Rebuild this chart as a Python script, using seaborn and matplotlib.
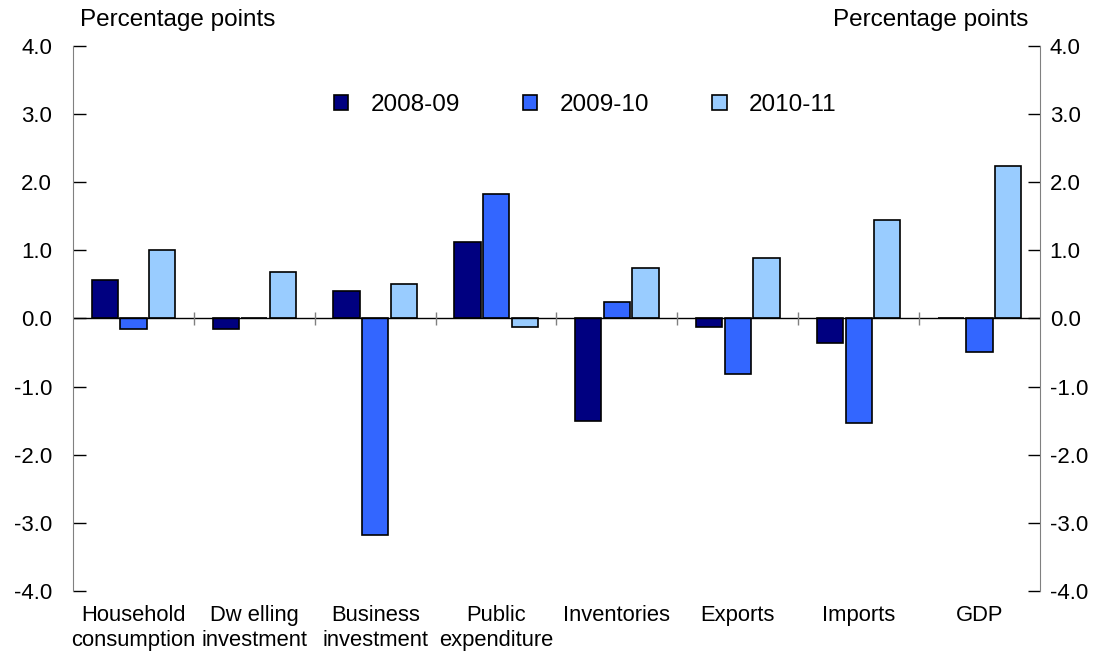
import pandas as pd
import matplotlib
matplotlib.use("Agg")
import matplotlib.pyplot as plt
import seaborn as sns
from matplotlib.ticker import FormatStrFormatter

# Contributions to growth
categories = ["Household\nconsumption", "Dw elling\ninvestment", "Business\ninvestment",
              "Public\nexpenditure", "Inventories", "Exports", "Imports", "GDP"]
years = ["2008-09", "2009-10", "2010-11"]
v_0809 = [0.56, -0.15, 0.41, 1.13, -1.50, -0.12, -0.36, 0.0]
v_0910 = [-0.15, 0.0, -3.18, 1.83, 0.24, -0.82, -1.53, -0.49]
v_1011 = [1.00, 0.68, 0.51, -0.12, 0.74, 0.89, 1.45, 2.24]
colours = ["#000080", "#3366FF", "#99CCFF"]

rows = []
for yr, vals in zip(years, [v_0809, v_0910, v_1011]):
    for cat, v in zip(categories, vals):
        rows.append({"cat": cat, "year": yr, "value": v})
df = pd.DataFrame(rows)

sns.set_style("white")
plt.rcParams["font.family"] = ["Liberation Sans", "DejaVu Sans"]
plt.rcParams["text.color"] = "black"
plt.rcParams["xtick.labelcolor"] = "black"
plt.rcParams["ytick.labelcolor"] = "black"

TICK_FS = 16
CAT_FS = 15.8
BIG_FS = 17.5

fig = plt.figure(figsize=(11.08, 6.57), dpi=100)
ax = fig.add_axes([0.0659, 0.1005, 0.8727, 0.8295])

sns.barplot(data=df, x="cat", y="value", hue="year", palette=colours,
            order=categories, hue_order=years, width=0.71, gap=0.08,
            saturation=1, edgecolor="black", linewidth=1.2, errorbar=None, ax=ax)

ax.set_ylim(-4, 4)
ax.set_xlim(-0.5, len(categories) - 0.5)
ax.set_yticks([-4, -3, -2, -1, 0, 1, 2, 3, 4])
ax.yaxis.set_major_formatter(FormatStrFormatter("%.1f"))
ax.set_xlabel("")
ax.set_ylabel("")
ax.tick_params(axis="y", direction="in", length=9, width=1, color="black",
               pad=15, labelsize=TICK_FS, labelcolor="black")
ax.tick_params(axis="x", length=0, pad=10, labelsize=CAT_FS, labelcolor="black")
for lab in ax.get_xticklabels():
    lab.set_linespacing(1.25)
    lab.set_verticalalignment("top")

for s in ["top", "bottom", "right"]:
    ax.spines[s].set_visible(False)
ax.spines["left"].set_color("#808080")

# zero line with category separators
ax.axhline(0, color="black", lw=1, zorder=1)
ax.vlines([i + 0.5 for i in range(len(categories) - 1)], -0.1, 0.1,
          color="#808080", lw=1, zorder=1)

ax2 = ax.twinx()
ax2.set_ylim(-4, 4)
ax2.set_yticks([-4, -3, -2, -1, 0, 1, 2, 3, 4])
ax2.yaxis.set_major_formatter(FormatStrFormatter("%.1f"))
ax2.tick_params(axis="y", direction="in", length=9, width=1, color="black",
                pad=7, labelsize=TICK_FS, labelcolor="black")
for s in ["top", "bottom", "left"]:
    ax2.spines[s].set_visible(False)
ax2.spines["right"].set_color("#808080")

handles, labels = ax.get_legend_handles_labels()
ax.legend_.remove()
fig.legend(handles, labels, loc="center", bbox_to_anchor=(585 / 1108, 1 - 105 / 657),
           ncol=3, frameon=False, handlelength=0.6, handleheight=0.6,
           handletextpad=0.9, columnspacing=2.6, fontsize=BIG_FS)

fig.text(80 / 1108, 1 - 20 / 657, "Percentage points", ha="left", va="center", fontsize=BIG_FS)
fig.text(1028 / 1108, 1 - 20 / 657, "Percentage points", ha="right", va="center", fontsize=BIG_FS)

fig.savefig("out.png", dpi=100)
